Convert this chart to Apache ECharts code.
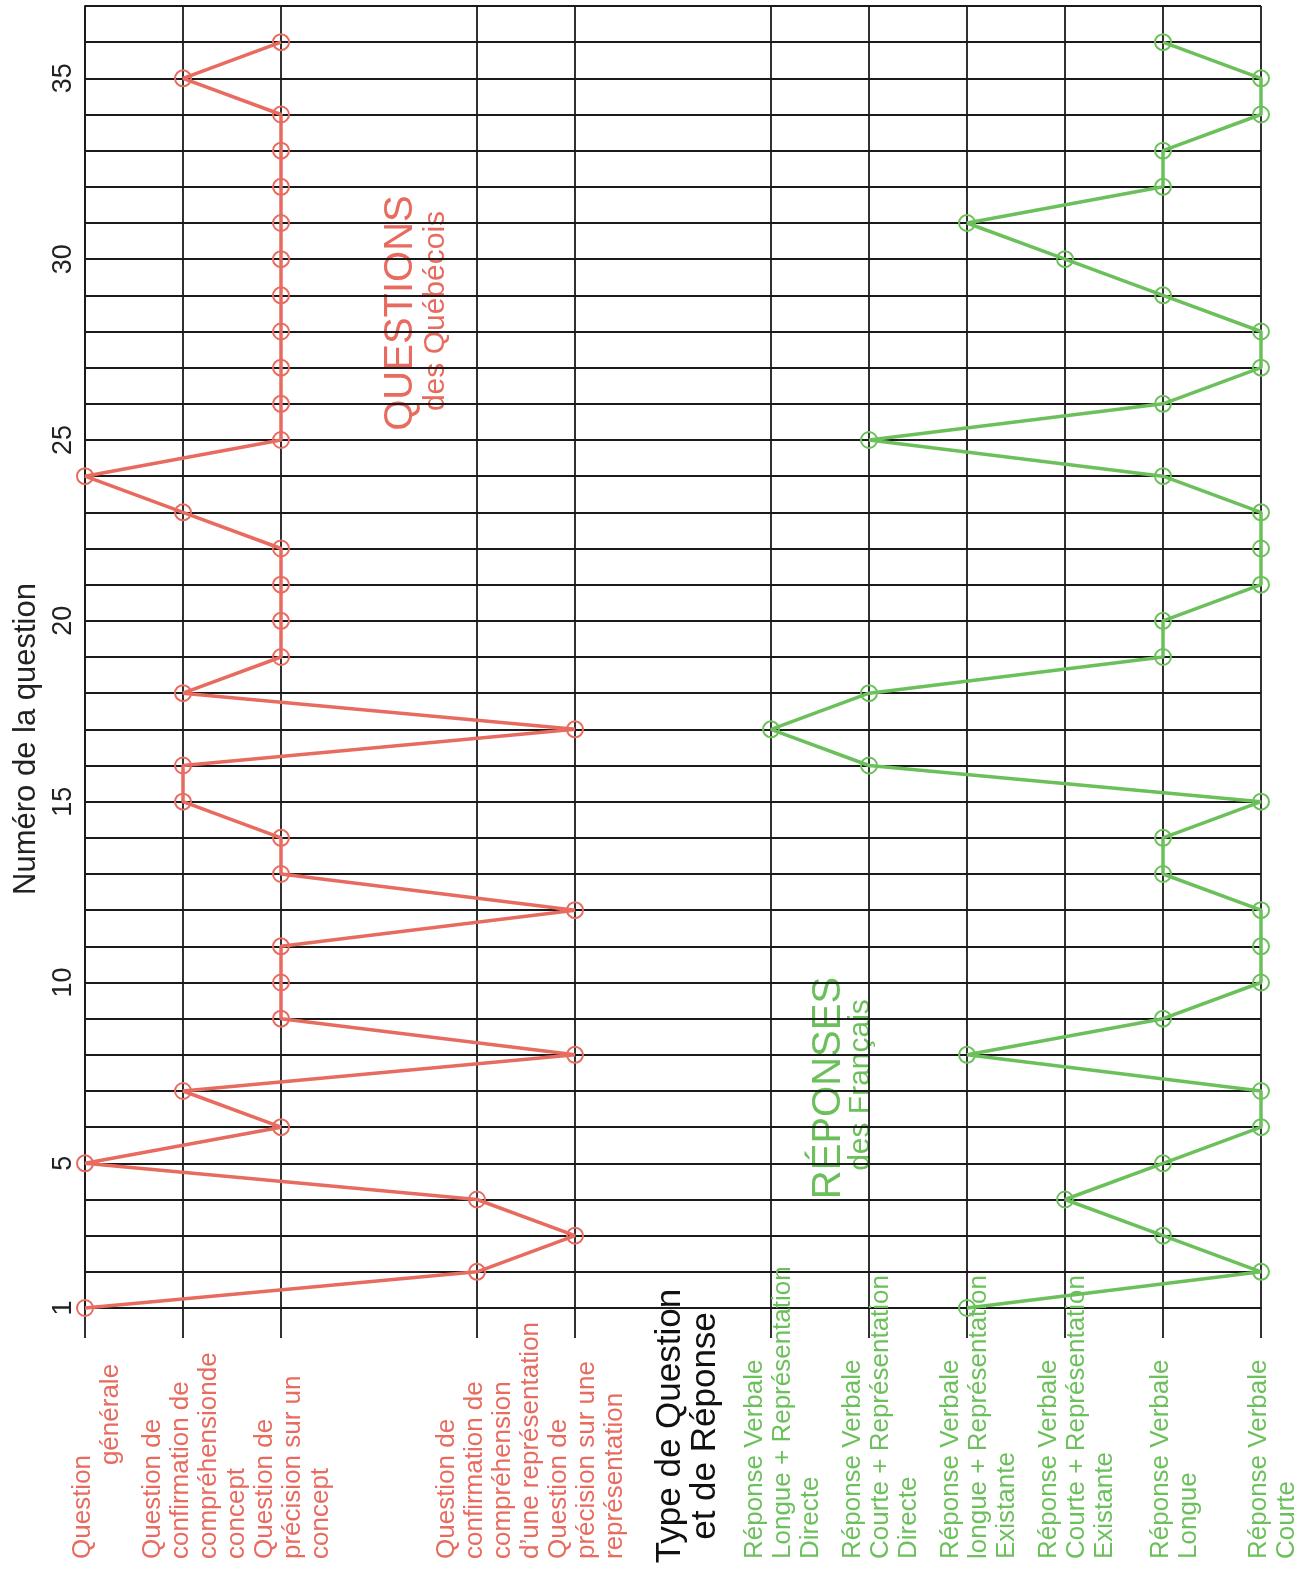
<!DOCTYPE html>
<html>
<head>
<meta charset="utf-8">
<script src="https://cdn.jsdelivr.net/npm/echarts@6/dist/echarts.min.js"></script>
<style>
html,body{margin:0;padding:0;background:#fff;}
#c{width:1307px;height:1569px;}
</style>
</head>
<body>
<div id="c"></div>
<script>
// ---- DATA ----
const typeLabels = [
  'Question\n             générale',
  'Question de\nconfirmation de\ncompréhensionde\nconcept',
  'Question de\nprécision sur un\nconcept',
  '',
  'Question de\nconfirmation de\ncompréhension\nd’une représentation',
  'Question de\nprécision sur une\nreprésentation',
  '',
  'Réponse Verbale\nLongue + Représentation\nDirecte',
  'Réponse Verbale\nCourte + Représentation\nDirecte',
  'Réponse Verbale\nlongue + Représentation\nExistante',
  'Réponse Verbale\nCourte + Représentation\nExistante',
  'Réponse Verbale\nLongue',
  'Réponse Verbale\nCourte'
];
const questionNumbers = [1,2,3,4,5,6,7,8,9,10,11,12,13,14,15,16,17,18,19,20,21,22,23,24,25,26,27,28,29,30,31,32,33,34,35,36];
// index into typeLabels, one per question
const questionTypes = [0,4,5,4,0,2,1,5,2,2,2,5,2,2,1,1,5,1,2,2,2,2,1,0,2,2,2,2,2,2,2,2,2,2,1,2];
const responseTypes = [9,12,11,10,11,12,12,9,11,12,12,12,11,11,12,8,7,8,11,11,12,12,12,11,8,11,12,12,11,10,9,11,11,12,12,11];
const yTickLabels = [1,5,10,15,20,25,30,35];
const axisTitle = 'Numéro de la question';
const typeTitle = 'Type de Question\net de Réponse';
const questionsTitle = 'QUESTIONS';
const questionsSub = 'des Québécois';
const answersTitle = 'RÉPONSES';
const answersSub = 'des Français';

// ---- STYLE ----
const FONT = '"Liberation Sans", Arial, Helvetica, sans-serif';
const RED = '#e86b60';
const GREEN = '#6cc05b';
const GRID = '#1a1a1a';

const chart = echarts.init(document.getElementById('c'), null, {renderer: 'canvas'});

function catLabel(value, index) {
  if (!value) return '';
  const key = index < 6 ? 'r' : 'g';
  return value.split('\n').map(l => '{' + key + '|' + l + '}').join('\n');
}
const hasCat = (i) => typeLabels[i] !== '';

const seriesStyle = (color) => ({
  type: 'line',
  clip: false,
  symbol: 'circle',
  symbolSize: 16,
  itemStyle: {color: 'rgba(255,255,255,0)', borderColor: color, borderWidth: 2},
  lineStyle: {color: color, width: 3.5},
  emphasis: {disabled: true},
  z: 5
});

chart.setOption({
  animation: false,
  backgroundColor: '#fff',
  textStyle: {fontFamily: FONT},
  grid: {left: 85, right: 46, top: 6, bottom: 261, outerBoundsMode: 'none'},
  xAxis: {
    type: 'category',
    data: typeLabels,
    boundaryGap: false,
    axisLine: {show: true, lineStyle: {color: GRID, width: 1.8}},
    axisTick: {show: true, length: 30, interval: hasCat, lineStyle: {color: GRID, width: 1.8}},
    splitLine: {show: true, interval: hasCat, lineStyle: {color: GRID, width: 1.8}},
    axisLabel: {
      interval: 0,
      rotate: 90,
      margin: 251,
      align: 'left',
      verticalAlign: 'middle',
      padding: [24, 0, 0, 0],
      formatter: catLabel,
      rich: {
        r: {color: RED, fontSize: 26, lineHeight: 28, fontFamily: FONT},
        g: {color: GREEN, fontSize: 26, lineHeight: 28, fontFamily: FONT}
      }
    }
  },
  yAxis: {
    type: 'value',
    min: 1,
    max: 37,
    interval: 1,
    axisLine: {show: true, lineStyle: {color: GRID, width: 1.8}},
    axisTick: {show: false},
    splitLine: {show: true, lineStyle: {color: GRID, width: 1.8}},
    axisLabel: {
      rotate: 90,
      margin: 8,
      fontSize: 27,
      color: '#222',
      fontFamily: FONT,
      align: 'center',
      verticalAlign: 'bottom',
      formatter: (v) => yTickLabels.indexOf(v) >= 0 ? String(v) : ''
    }
  },
  series: [
    Object.assign(seriesStyle(RED), {name: 'Questions', data: questionNumbers.map((q, i) => [questionTypes[i], q])}),
    Object.assign(seriesStyle(GREEN), {name: 'Réponses', data: questionNumbers.map((q, i) => [responseTypes[i], q])})
  ],
  graphic: [
    {type: 'text', x: 26, y: 739, rotation: Math.PI / 2,
     style: {text: axisTitle, fontSize: 31, fontFamily: FONT, fill: '#222', align: 'center', verticalAlign: 'middle', textAlign: 'center', textVerticalAlign: 'middle'}},
    {type: 'text', x: 688, y: 1426, rotation: Math.PI / 2,
     style: {text: typeTitle, fontSize: 35, lineHeight: 35, fontFamily: FONT, fill: '#111', align: 'center', verticalAlign: 'middle', textAlign: 'center', textVerticalAlign: 'middle'}},
    {type: 'text', x: 401, y: 313, rotation: Math.PI / 2,
     style: {text: questionsTitle, fontSize: 40, fontFamily: FONT, fill: RED, align: 'center', verticalAlign: 'middle', textAlign: 'center', textVerticalAlign: 'middle'}},
    {type: 'text', x: 436, y: 311, rotation: Math.PI / 2,
     style: {text: questionsSub, fontSize: 30, fontFamily: FONT, fill: RED, align: 'center', verticalAlign: 'middle', textAlign: 'center', textVerticalAlign: 'middle'}},
    {type: 'text', x: 829, y: 1088, rotation: Math.PI / 2,
     style: {text: answersTitle, fontSize: 40, fontFamily: FONT, fill: GREEN, align: 'center', verticalAlign: 'middle', textAlign: 'center', textVerticalAlign: 'middle'}},
    {type: 'text', x: 861, y: 1085, rotation: Math.PI / 2,
     style: {text: answersSub, fontSize: 30, fontFamily: FONT, fill: GREEN, align: 'center', verticalAlign: 'middle', textAlign: 'center', textVerticalAlign: 'middle'}}
  ]
});
</script>
</body>
</html>
